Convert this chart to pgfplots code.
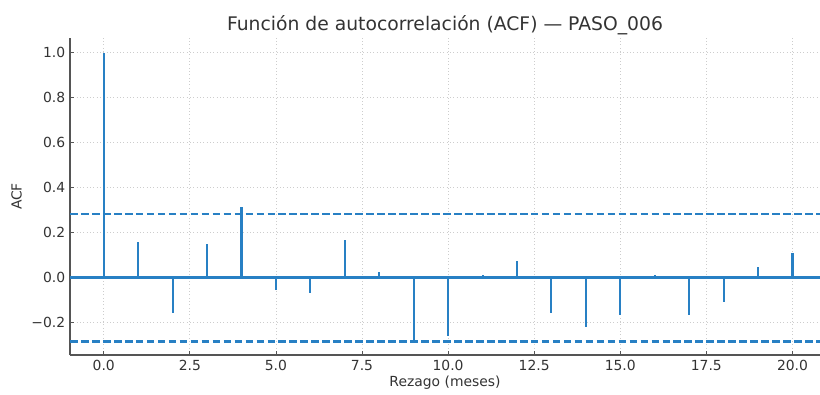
\documentclass[border=0pt]{standalone}
\usepackage{pgfplots}
\pgfplotsset{compat=1.18}
\usepackage{fontspec}
\setmainfont{DejaVu Sans}
\definecolor{acfblue}{RGB}{40,128,196}
\definecolor{txtc}{RGB}{51,51,51}
\definecolor{spinec}{RGB}{85,85,85}
\definecolor{gridc}{RGB}{205,205,205}
\pgfplotstableread{
lag acf
0 1.000
1 0.160
2 -0.156
3 0.147
4 0.314
5 -0.055
6 -0.071
7 0.168
8 0.024
9 -0.281
10 -0.260
11 0.010
12 0.074
13 -0.156
14 -0.220
15 -0.168
16 0.010
17 -0.165
18 -0.111
19 0.048
20 0.107
}\acfdata
\pgfplotstableread{
x zero up lo
-0.98 0 0.284 -0.285
20.8 0 0.284 -0.285
}\refdata
\begin{document}
\begin{tikzpicture}
\begin{axis}[
  name=ax,
  scale only axis,
  width=540pt, height=228.2pt,
  xmin=-0.98, xmax=20.8,
  ymin=-0.345, ymax=1.066,
  axis lines*=left,
  axis line style={draw=spinec, line width=1pt},
  xtick={0,2.5,...,20},
  ytick={-0.2,0,0.2,0.4,0.6,0.8,1.0},
  yticklabels={−0.2,0.0,0.2,0.4,0.6,0.8,1.0},
  /pgf/number format/fixed,
  /pgf/number format/fixed zerofill,
  /pgf/number format/precision=1,
  /pgf/number format/assume math mode=true,
  ticklabel style={font=\fontsize{10}{12}\selectfont, text=txtc},
  major tick length=3pt,
  tick style={draw=spinec, line width=0.6pt},
  tick align=inside,
  grid=major,
  major grid style={draw=gridc, dotted, line width=0.6pt},
  title={Función de autocorrelación (ACF) — PASO\_006},
  title style={font=\fontsize{13.5}{16}\selectfont, text=txtc, yshift=-7pt},
  xlabel={Rezago (meses)},
  ylabel={ACF},
  label style={font=\fontsize{10}{12}\selectfont, text=txtc},
  xlabel style={yshift=3pt},
  ylabel style={yshift=0pt},
]
\addplot[ycomb, color=acfblue, line width=1.5pt, mark=none, solid] table[x=lag, y=acf] {\acfdata};
\addplot[color=acfblue, line width=1.5pt, solid, mark=none] table[x=x, y=zero] {\refdata};
\addplot[color=acfblue, line width=1.5pt, mark=none, dash pattern=on 5.5pt off 2.4pt] table[x=x, y=up] {\refdata};
\addplot[color=acfblue, line width=1.5pt, mark=none, dash pattern=on 5.5pt off 2.4pt] table[x=x, y=lo] {\refdata};
\end{axis}
\pgfresetboundingbox
\path[use as bounding box] ([xshift=-50.4pt,yshift=-28.1pt]ax.south west) rectangle ([yshift=27.4pt]ax.north east);
\end{tikzpicture}
\end{document}
